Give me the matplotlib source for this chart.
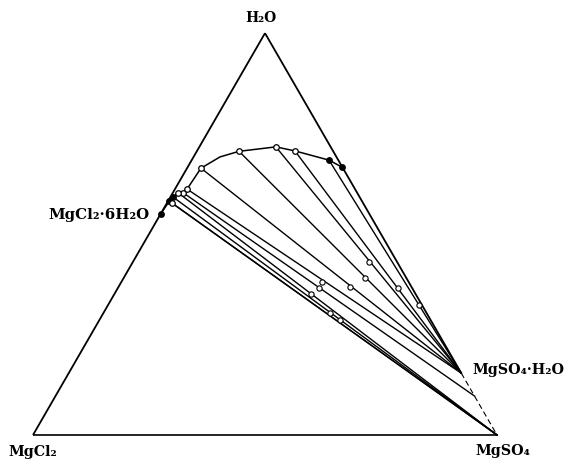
import matplotlib
matplotlib.use("Agg")
import matplotlib.pyplot as plt
import numpy as np

# ---- data: weight percent (MgCl2, MgSO4); H2O = 100 - MgCl2 - MgSO4 ----
# solubility curve (isotherm) vertices
curve_mgcl2 = [0.0, 2.0, 8.2, 11.8, 20.3, 25.1, 30.6, 36.2, 37.5, 38.6, 40.2, 41.5, 45.0]
curve_mgso4 = [33.4, 29.6, 21.1, 16.5, 9.1, 5.7, 3.0, 2.6, 2.2, 1.1, 0.6, 0.3, 0.0]

# measured solutions (marked on the curve)
sol_mgcl2 = [0.0, 2.0, 8.2, 11.8, 20.3, 30.6, 36.2, 37.5, 38.6, 40.2, 41.5, 41.2, 45.0]
sol_mgso4 = [33.4, 29.6, 21.1, 16.5, 9.1, 3.0, 2.6, 2.2, 1.1, 0.6, 0.3, 1.1, 0.0]
sol_filled = [True, True, False, False, False, False, False, False, False, True, True, False, True]

# tie lines: solution -> solid phase
tie_start_mgcl2 = [2.0, 8.2, 11.8, 20.3, 30.6, 36.2, 37.5, 38.6, 40.2, 41.5, 41.2]
tie_start_mgso4 = [29.6, 21.1, 16.5, 9.1, 3.0, 2.6, 2.2, 1.1, 0.6, 0.3, 1.1]
tie_end_mgcl2 = [0.0] * 11
tie_end_mgso4 = [84.6, 84.6, 84.6, 84.6, 84.6, 84.6, 90.3, 100.0, 100.0, 100.0, 100.0]

# wet residues
res_mgcl2 = [0.6, 3.1, 6.1, 8.9, 13.3, 18.7, 20.1, 22.6, 20.8, 19.5]
res_mgso4 = [67.0, 60.4, 50.9, 52.0, 49.9, 43.2, 43.4, 42.4, 48.8, 51.9]

# compounds
hydrate_mgso4 = 84.6     # MgSO4·H2O on the MgSO4-H2O side
hexa_mgcl2 = 45.0        # MgCl2·6H2O on the MgCl2-H2O side

H = np.sqrt(3) / 2


def tern(mgcl2, mgso4):
    mgcl2 = np.asarray(mgcl2, dtype=float)
    mgso4 = np.asarray(mgso4, dtype=float)
    h2o = 100.0 - mgcl2 - mgso4
    x = (mgso4 + 0.5 * h2o) / 100.0
    y = h2o / 100.0 * H
    return x, y


fig = plt.figure(figsize=(5.65, 4.62), dpi=100)
ax = fig.add_axes([0, 0, 1, 1])
ax.set_xlim(-33 / 464, 532 / 464)
ax.set_ylim(-27 / 464, 435 / 464)
ax.axis("off")

k = "black"
# triangle edges
x, y = tern([0, 100], [0, 0])          # H2O -> MgCl2
ax.plot(x, y, color=k, lw=1.3, solid_capstyle="butt")
x, y = tern([100, 0], [0, 100])        # MgCl2 -> MgSO4
ax.plot(x, y, color=k, lw=1.2, solid_capstyle="butt")
x, y = tern([0, 0], [0, hydrate_mgso4])  # H2O -> MgSO4·H2O
ax.plot(x, y, color=k, lw=1.3, solid_capstyle="butt")
x, y = tern([0, 0], [hydrate_mgso4, 100])  # dashed continuation
ax.plot(x, y, color=k, lw=0.8, ls=(0, (5, 3)))

# tie lines
for a0, b0, a1, b1 in zip(tie_start_mgcl2, tie_start_mgso4, tie_end_mgcl2, tie_end_mgso4):
    x, y = tern([a0, a1], [b0, b1])
    ax.plot(x, y, color=k, lw=1.0)

# solubility curve
x, y = tern(curve_mgcl2, curve_mgso4)
ax.plot(x, y, color=k, lw=1.1)

# solution points
x, y = tern(sol_mgcl2, sol_mgso4)
for xi, yi, f in zip(x, y, sol_filled):
    ax.plot(xi, yi, "o", ms=4.0, mew=0.9, mec=k, mfc=k if f else "white", zorder=5)

# residues
x, y = tern(res_mgcl2, res_mgso4)
ax.plot(x, y, "o", ms=3.8, mew=0.8, mec=k, mfc="white", ls="none", zorder=5)

# labels
fp = dict(family="DejaVu Serif", fontweight="bold", color=k)
fig.text(261 / 565, 1 - 18 / 462, "H₂O", ha="center", va="center", fontsize=10, **fp)
fig.text(150 / 565, 1 - 215 / 462, "MgCl₂·6H₂O", ha="right", va="center", fontsize=10.8, **fp)
fig.text(472 / 565, 1 - 370 / 462, "MgSO₄·H₂O", ha="left", va="center", fontsize=10.3, **fp)
fig.text(33 / 565, 1 - 452 / 462, "MgCl₂", ha="center", va="center", fontsize=10.3, **fp)
fig.text(503 / 565, 1 - 451 / 462, "MgSO₄", ha="center", va="center", fontsize=10.3, **fp)

fig.savefig("out.png", dpi=100)
